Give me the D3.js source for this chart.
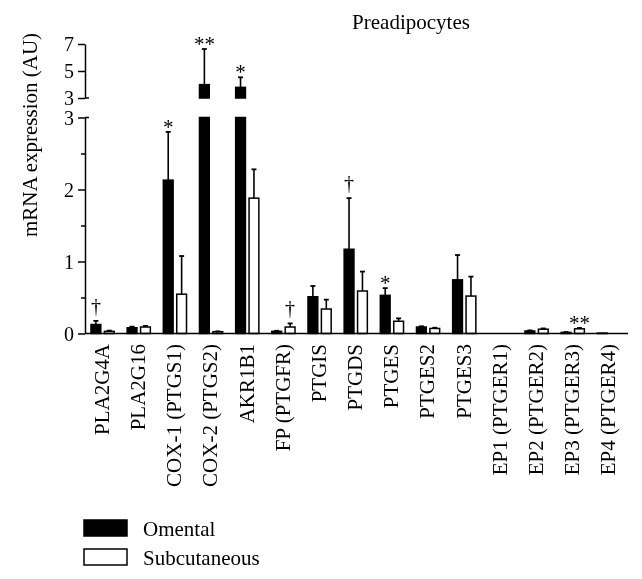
<!DOCTYPE html>
<html>
<head>
<meta charset="utf-8">
<script src="https://cdn.jsdelivr.net/npm/d3@7/dist/d3.min.js"></script>
<style>
  html, body { margin: 0; padding: 0; background: #fff; }
  svg { display: block; will-change: transform; }
  svg text { font-family: "Liberation Serif", "DejaVu Serif", serif; fill: #000; }
  .annot { opacity: 0.999; }
</style>
</head>
<body>
<svg id="chart" width="642" height="579"></svg>
<script>
// ---- data ----
const categories = ["PLA2G4A", "PLA2G16", "COX-1 (PTGS1)", "COX-2 (PTGS2)", "AKR1B1",
  "FP (PTGFR)", "PTGIS", "PTGDS", "PTGES", "PTGES2", "PTGES3",
  "EP1 (PTGER1)", "EP2 (PTGER2)", "EP3 (PTGER3)", "EP4 (PTGER4)"];
const seriesNames = ["Omental", "Subcutaneous"];
const omental      = [0.125, 0.08, 2.13, 3.99, 3.79, 0.03, 0.51, 1.17, 0.53, 0.09, 0.745, 0, 0.035, 0.015, 0.006];
const omentalErr   = [0.05, 0.015, 0.67, 2.64, 0.74, 0.008, 0.15, 0.71, 0.10, 0.01, 0.345, 0, 0.008, 0.005, 0];
const subcutaneous = [0.03, 0.09, 0.546, 0.025, 1.88, 0.09, 0.34, 0.59, 0.17, 0.07, 0.52, 0, 0.06, 0.065, 0];
const subcutErr    = [0.01, 0.015, 0.53, 0.005, 0.40, 0.05, 0.13, 0.27, 0.04, 0.01, 0.27, 0, 0.01, 0.012, 0];
const lowerTicks = [0, 1, 2, 3];
const lowerMinorTicks = [0.5, 1.5, 2.5];
const upperTicks = [3, 5, 7];
const annotCategories = ["PLA2G4A", "COX-1 (PTGS1)", "COX-2 (PTGS2)", "AKR1B1", "FP (PTGFR)", "PTGDS", "PTGES", "EP3 (PTGER3)"];
const annotSeries     = ["Omental", "Omental", "Omental", "Omental", "Subcutaneous", "Omental", "Omental", "Subcutaneous"];
const annotMarks      = ["\u2020", "*", "**", "*", "\u2020", "\u2020", "*", "**"];
const title = "Preadipocytes";
const yTitle = "mRNA expression (AU)";

// ---- layout ----
const FONT = "'Liberation Serif', 'DejaVu Serif', serif";
const svg = d3.select("#chart");
const axisX = 85, baseY = 333.5;
const breakVal = 3;

const x = d3.scaleBand().domain(categories).range([84.5, 627]).padding(0);
const xs = d3.scaleBand().domain(seriesNames).range([-11.6, 11.6]).paddingInner(0.27);
const yL = d3.scaleLinear().domain([0, 3]).range([baseY, 117.5]);
const yU = d3.scaleLinear().domain([3, 7]).range([98, 44]);

const fs = 21;
const black = "#000";

const rows = [];
categories.forEach((c, i) => {
  rows.push({cat: c, s: "Omental", v: omental[i], e: omentalErr[i]});
  rows.push({cat: c, s: "Subcutaneous", v: subcutaneous[i], e: subcutErr[i]});
});
const cx = d => x(d.cat) + x.bandwidth() / 2;
const bx = d => cx(d) + xs(d.s);

const g = svg.append("g");
g.selectAll("rect.low").data(rows.filter(d => d.v > 0)).join("rect")
  .attr("class", "low")
  .attr("x", d => bx(d))
  .attr("width", xs.bandwidth())
  .attr("y", d => yL(Math.min(d.v, breakVal)))
  .attr("height", d => baseY - yL(Math.min(d.v, breakVal)))
  .attr("fill", d => d.s === "Omental" ? black : "#fff")
  .attr("stroke", black).attr("stroke-width", 1.5);

g.selectAll("rect.up").data(rows.filter(d => d.v > breakVal)).join("rect")
  .attr("class", "up")
  .attr("x", d => bx(d))
  .attr("width", xs.bandwidth())
  .attr("y", d => yU(d.v))
  .attr("height", d => yU(breakVal) - yU(d.v))
  .attr("fill", d => d.s === "Omental" ? black : "#fff")
  .attr("stroke", black).attr("stroke-width", 1.5);

const yTop = d => (d.v > breakVal ? yU(d.v + d.e) : yL(d.v + d.e));
const yBar = d => (d.v > breakVal ? yU(d.v) : yL(d.v));
const errRows = rows.filter(d => d.v > 0 && d.e > 0);
g.selectAll("line.err").data(errRows).join("line")
  .attr("x1", d => bx(d) + xs.bandwidth() / 2).attr("x2", d => bx(d) + xs.bandwidth() / 2)
  .attr("y1", d => yBar(d)).attr("y2", d => yTop(d))
  .attr("stroke", black).attr("stroke-width", 1.6);
g.selectAll("line.cap").data(errRows).join("line")
  .attr("x1", d => bx(d) + xs.bandwidth() / 2 - 2.5).attr("x2", d => bx(d) + xs.bandwidth() / 2 + 2.5)
  .attr("y1", d => yTop(d)).attr("y2", d => yTop(d))
  .attr("stroke", black).attr("stroke-width", 1.8);

const annots = annotCategories.map((c, k) => {
  const r = rows.find(d => d.cat === c && d.s === annotSeries[k]);
  return {r, mark: annotMarks[k]};
});
g.selectAll("text.annot").data(annots).join("text")
  .attr("class", "annot")
  .attr("x", d => bx(d.r) + xs.bandwidth() / 2)
  .attr("y", d => yTop(d.r) + (d.mark === "\u2020" ? -8 : 2))
  .attr("text-anchor", "middle")
  .attr("font-size", d => d.mark === "\u2020" ? 20 : fs)
  .attr("fill", black)
  .text(d => d.mark);

svg.append("line").attr("x1", axisX).attr("x2", 628).attr("y1", baseY).attr("y2", baseY)
  .attr("stroke", black).attr("stroke-width", 1.5);

svg.append("g").selectAll("text").data(categories).join("text")
  .attr("transform", d => `translate(${x(d) + x.bandwidth() / 2 - 1},344) rotate(-90)`)
  .attr("dy", "0.35em")
  .attr("text-anchor", "end")
  .attr("font-size", fs)
  .attr("font-family", FONT)
  .text(d => d);

function styleAxis(sel) {
  sel.attr("font-family", FONT).attr("font-size", 20);
  sel.selectAll("path, line").attr("stroke", black).attr("stroke-width", 1.5);
  sel.selectAll("text").attr("fill", black);
}
const lowerAx = svg.append("g").attr("transform", `translate(${axisX},0)`)
  .call(d3.axisLeft(yL).tickValues(lowerTicks).tickSizeInner(7).tickSizeOuter(0).tickPadding(4).tickFormat(d3.format("d")));
styleAxis(lowerAx);
lowerAx.selectAll(".tick text").attr("dy", "0.36em");
const minorAx = svg.append("g").attr("transform", `translate(${axisX},0)`)
  .call(d3.axisLeft(yL).tickValues(lowerMinorTicks).tickSizeInner(4).tickSizeOuter(0).tickFormat(""));
styleAxis(minorAx);
minorAx.select(".domain").remove();
const upperAx = svg.append("g").attr("transform", `translate(${axisX},0)`)
  .call(d3.axisLeft(yU).tickValues(upperTicks).tickSizeInner(7).tickSizeOuter(0).tickPadding(4).tickFormat(d3.format("d")));
styleAxis(upperAx);
upperAx.selectAll(".tick text").attr("dy", "0.3em");
[yL(breakVal), yU(breakVal)].forEach(yy => {
  svg.append("line").attr("x1", axisX).attr("x2", axisX + 4).attr("y1", yy).attr("y2", yy)
    .attr("stroke", black).attr("stroke-width", 1.5);
});

svg.append("text").attr("x", 411).attr("y", 29).attr("text-anchor", "middle")
  .attr("font-size", fs).attr("font-family", FONT).text(title);
svg.append("text").attr("transform", "translate(37,135) rotate(-90)")
  .attr("text-anchor", "middle").attr("font-size", fs).attr("font-family", FONT).text(yTitle);

const legend = svg.append("g");
seriesNames.forEach((s, i) => {
  const yy = 520 + i * 29;
  legend.append("rect").attr("x", 84).attr("y", yy).attr("width", 43).attr("height", 16)
    .attr("fill", i === 0 ? black : "#fff").attr("stroke", black).attr("stroke-width", 1.5);
  legend.append("text").attr("x", 143).attr("y", yy + 15.5).attr("font-size", fs)
    .attr("font-family", FONT).text(s);
});
</script>
</body>
</html>
